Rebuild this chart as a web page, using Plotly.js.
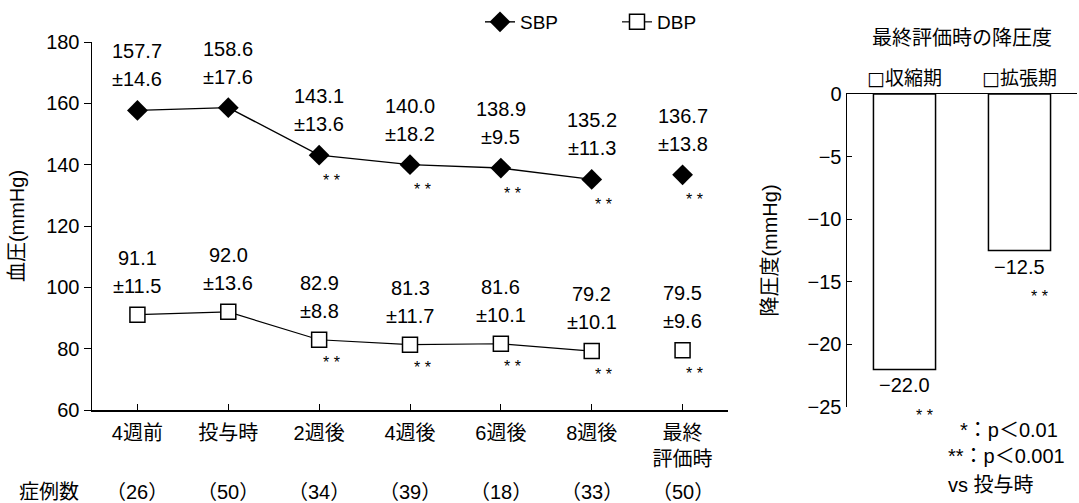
<!DOCTYPE html>
<html>
<head>
<meta charset="utf-8">
<script src="https://cdn.plot.ly/plotly-3.0.1.min.js"></script>
<style>html,body{margin:0;padding:0;background:#fff;}#chart{width:1079px;height:503px;}</style>
</head>
<body>
<div id="chart"></div>
<script>
// ---- data ----
const categories = ['4週前', '投与時', '2週後', '4週後', '6週後', '8週後', '最終<br>評価時'];
const sbp = [157.7, 158.6, 143.1, 140.0, 138.9, 135.2, 136.7];
const sbpSd = [14.6, 17.6, 13.6, 18.2, 9.5, 11.3, 13.8];
const dbp = [91.1, 92.0, 82.9, 81.3, 81.6, 79.2, 79.5];
const dbpSd = [11.5, 13.6, 8.8, 11.7, 10.1, 10.1, 9.6];
const sbpSig = ['', '', '**', '**', '**', '**', '**'];
const dbpSig = ['', '', '**', '**', '**', '**', '**'];
const nCases = [26, 50, 34, 39, 18, 33, 50];
const barCats = ['□収縮期', '□拡張期'];
const barVals = [-22.0, -12.5];
const barSig = ['**', '**'];

// ---- layout helpers (pixel -> paper) ----
const W = 1079, H = 503, ML = 92, MR = 2, MT = 42, MB = 93;
const PW = W - ML - MR, PH = H - MT - MB;
const px = v => (v - ML) / PW;
const py = v => (H - MB - v) / PH;

const FONT = 'Liberation Sans, Arial, Noto Sans CJK JP, sans-serif';
const CJK = 'Noto Sans CJK JP, Liberation Sans, sans-serif';
const BOXFONT = 'DejaVu Sans, Noto Sans CJK JP, sans-serif';
const fmt = v => v.toFixed(1).replace('-', '\u2212');
const stars = s => s.split('').join(' ');

const nLine = 6; // connected points
const traces = [
  {x: categories.slice(0, nLine), y: sbp.slice(0, nLine), name: 'SBP', type: 'scatter', mode: 'lines+markers',
   line: {color: '#000', width: 1.4}, marker: {symbol: 'diamond', size: 16, color: '#000'}, xaxis: 'x', yaxis: 'y'},
  {x: categories.slice(0, nLine), y: dbp.slice(0, nLine), name: 'DBP', type: 'scatter', mode: 'lines+markers',
   line: {color: '#000', width: 1.2}, marker: {symbol: 'square', size: 15, color: '#fff', line: {color: '#000', width: 1.5}}, xaxis: 'x', yaxis: 'y'},
  {x: categories.slice(nLine), y: sbp.slice(nLine), type: 'scatter', mode: 'markers', showlegend: false,
   marker: {symbol: 'diamond', size: 16, color: '#000'}, xaxis: 'x', yaxis: 'y'},
  {x: categories.slice(nLine), y: dbp.slice(nLine), type: 'scatter', mode: 'markers', showlegend: false,
   marker: {symbol: 'square', size: 15, color: '#fff', line: {color: '#000', width: 1.5}}, xaxis: 'x', yaxis: 'y'},
  {x: barCats, y: barVals, type: 'bar', width: 0.54, showlegend: false, xaxis: 'x2', yaxis: 'y2',
   marker: {color: '#fff', line: {color: '#000', width: 1.5}}}
];

const ann = [];
const numFont = {family: FONT, size: 20, color: '#000'};
const starFont = {family: FONT, size: 16, color: '#000'};
categories.forEach((c, i) => {
  ann.push({x: c, y: sbp[i], xref: 'x', yref: 'y', text: fmt(sbp[i]), showarrow: false, yshift: 59, font: numFont});
  ann.push({x: c, y: sbp[i], xref: 'x', yref: 'y', text: '±' + fmt(sbpSd[i]), showarrow: false, yshift: 31, font: numFont});
  ann.push({x: c, y: dbp[i], xref: 'x', yref: 'y', text: fmt(dbp[i]), showarrow: false, yshift: 57, font: numFont});
  ann.push({x: c, y: dbp[i], xref: 'x', yref: 'y', text: '±' + fmt(dbpSd[i]), showarrow: false, yshift: 29, font: numFont});
  if (sbpSig[i]) ann.push({x: c, y: sbp[i], xref: 'x', yref: 'y', text: stars(sbpSig[i]), showarrow: false, xshift: 12, yshift: -25, font: starFont});
  if (dbpSig[i]) ann.push({x: c, y: dbp[i], xref: 'x', yref: 'y', text: stars(dbpSig[i]), showarrow: false, xshift: 12, yshift: -23, font: starFont});
  ann.push({x: c, y: py(492), xref: 'x', yref: 'paper', text: '（' + nCases[i] + '）', showarrow: false, yanchor: 'middle', font: {family: FONT, size: 20, color: '#000'}});
});
ann.push({x: px(17), y: py(492), xref: 'paper', yref: 'paper', xanchor: 'left', yanchor: 'middle', text: '症例数', showarrow: false, font: {family: FONT, size: 20, color: '#000'}});
barCats.forEach((c, i) => {
  ann.push({x: c, y: barVals[i], xref: 'x2', yref: 'y2', text: fmt(barVals[i]), showarrow: false, yshift: -16, font: numFont});
  ann.push({x: c, y: barVals[i], xref: 'x2', yref: 'y2', text: stars(barSig[i]), showarrow: false, xshift: 20, yshift: -46, font: starFont});
});
const footFont = {family: FONT, size: 20, color: '#000'};
ann.push({x: px(958), y: py(430), xref: 'paper', yref: 'paper', xanchor: 'left', yanchor: 'middle', text: '*：p＜0.01', showarrow: false, font: footFont});
ann.push({x: px(946), y: py(456), xref: 'paper', yref: 'paper', xanchor: 'left', yanchor: 'middle', text: '**：p＜0.001', showarrow: false, font: footFont});
ann.push({x: px(946), y: py(485), xref: 'paper', yref: 'paper', xanchor: 'left', yanchor: 'middle', text: 'vs 投与時', showarrow: false, font: footFont});

const axLine = {showline: true, linecolor: '#000', linewidth: 1.5, showgrid: false, zeroline: false, tickcolor: '#000', fixedrange: true};
const layout = {
  width: W, height: H,
  margin: {l: ML, r: MR, t: MT, b: MB},
  paper_bgcolor: '#fff', plot_bgcolor: '#fff',
  font: {family: FONT, size: 20, color: '#000'},
  title: {text: '最終評価時の降圧度', font: {family: CJK, size: 20, color: '#000'},
          xref: 'paper', x: px(962), xanchor: 'center', yref: 'container', y: 1 - 38 / H, yanchor: 'middle'},
  showlegend: true,
  legend: {orientation: 'h', x: px(480), xanchor: 'left', y: py(22), yanchor: 'middle', entrywidth: 92,
           font: {family: FONT, size: 19, color: '#000'}, bgcolor: 'rgba(0,0,0,0)'},
  xaxis: Object.assign({}, axLine, {domain: [0, px(728)], anchor: 'y', type: 'category', range: [-0.5, 6.5],
          ticks: 'inside', ticklen: 6, ticklabelstandoff: 4, tickfont: {family: FONT, size: 20}}),
  yaxis: Object.assign({}, axLine, {domain: [0, 1], anchor: 'x', range: [60, 180], dtick: 20,
          ticks: 'outside', ticklen: 7, tickfont: {family: FONT, size: 20},
          title: {text: '血圧(mmHg)', font: {family: FONT, size: 20}, standoff: 16}}),
  xaxis2: Object.assign({}, axLine, {domain: [px(847), 1], anchor: 'y2', side: 'top', type: 'category', range: [-0.5, 1.5],
          ticks: '', tickfont: {family: BOXFONT, size: 19}}),
  yaxis2: Object.assign({}, axLine, {domain: [py(407), py(94)], anchor: 'x2', range: [-25, 0], dtick: 5,
          ticks: 'inside', ticklen: 5, tickfont: {family: FONT, size: 20},
          title: {text: '降圧度(mmHg)', font: {family: FONT, size: 20}, standoff: 24}}),
  annotations: ann
};

Plotly.newPlot('chart', traces, layout, {displayModeBar: false, staticPlot: true});
</script>
</body>
</html>
